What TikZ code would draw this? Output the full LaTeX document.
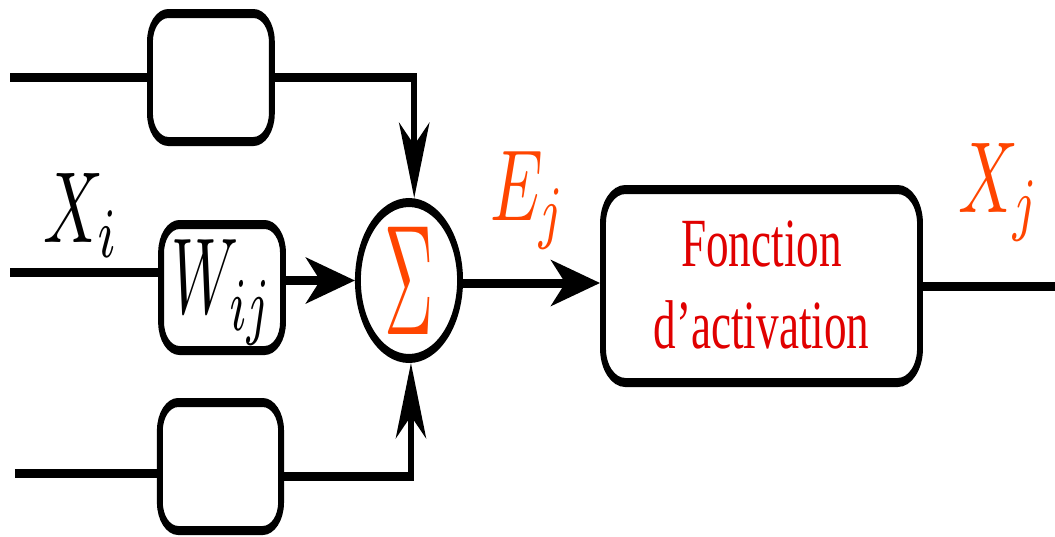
\documentclass[tikz,border=0pt]{standalone}
\usepackage[no-math]{fontspec}
\newfontfamily\timesfont{Liberation Serif}
\usetikzlibrary{arrows.meta,shapes.geometric}
\definecolor{sigorange}{RGB}{255,69,0}
\definecolor{actred}{RGB}{224,0,0}
\newcommand{\bigmath}[3]{\scalebox{#1}[#2]{$#3$}}
\begin{document}
\begin{tikzpicture}[x=1pt,y=-1pt,
  wire/.style={line width=9pt},
  box/.style={draw,line width=9pt,rounded corners=28pt,inner sep=0pt},
  tip/.style={-{Stealth[length=75pt,width=46pt,inset=22pt]}},
  mathlbl/.style={inner sep=0pt,anchor=base west},
]
\useasboundingbox (0,0) rectangle (1055,536);
\begin{scope}[transform canvas={xscale=0.655}]
% boxes
\node[box,minimum width=186pt,minimum height=128pt] (tb) at (322,77.5) {};
\node[box,minimum width=186pt,minimum height=126pt] (w) at (339,287.5)
  {\raisebox{-5pt}[\height][\depth]{\bigmath{9.45}{10.8}{W_{ij}}}};
\node[box,minimum width=185pt,minimum height=128pt] (bb) at (336.6,466.5) {};
\node[draw,circle,line width=9pt,minimum size=156pt,inner sep=0pt,text=sigorange] (sum) at (624.4,280.5)
  {\bigmath{10.4}{15.7}{\Sigma}};
\node[box,rounded corners=34pt,minimum width=484pt,minimum height=193pt,text=actred] (act) at (1162.6,286)
  {\raisebox{-5pt}[\height][\depth]{\timesfont\fontsize{69}{82}\selectfont\begin{tabular}{@{}c@{}}Fonction\\d’activation\end{tabular}}};

% labels
\node[mathlbl] (xi) at (65.6,242) {\bigmath{10.1}{10.1}{X_i}};
\node[mathlbl,text=sigorange] (ej) at (748,220) {\bigmath{10.1}{10.1}{E_j}};
\node[mathlbl,text=sigorange] (xj) at (1462.6,212) {\bigmath{10.1}{10.1}{X_j}};

% wires
\coordinate (in1) at (15.3,77.5);
\coordinate (in2) at (15.3,272);
\coordinate (in3) at (22.9,473);
\coordinate (out) at (1611,286);

\draw[wire] (in1) -- (tb.west);
\draw[wire,tip] (tb.east) -| ([xshift=8pt]sum.north);

\draw[wire] (in2) -- (in2 -| w.west);
\draw[wire,tip] (w.east |- sum.center) -- (sum.west);

\draw[wire] (in3) -- (in3 -| bb.west);
\draw[wire,tip] ([yshift=-9.5pt]bb.east) -| ([xshift=3pt]sum.south);

\draw[wire,tip] ([yshift=-2.5pt]sum.east) -- ([yshift=-2.5pt]sum.east -| act.west);
\draw[wire] (act.east) -- (out);
\end{scope}
\end{tikzpicture}
\end{document}
